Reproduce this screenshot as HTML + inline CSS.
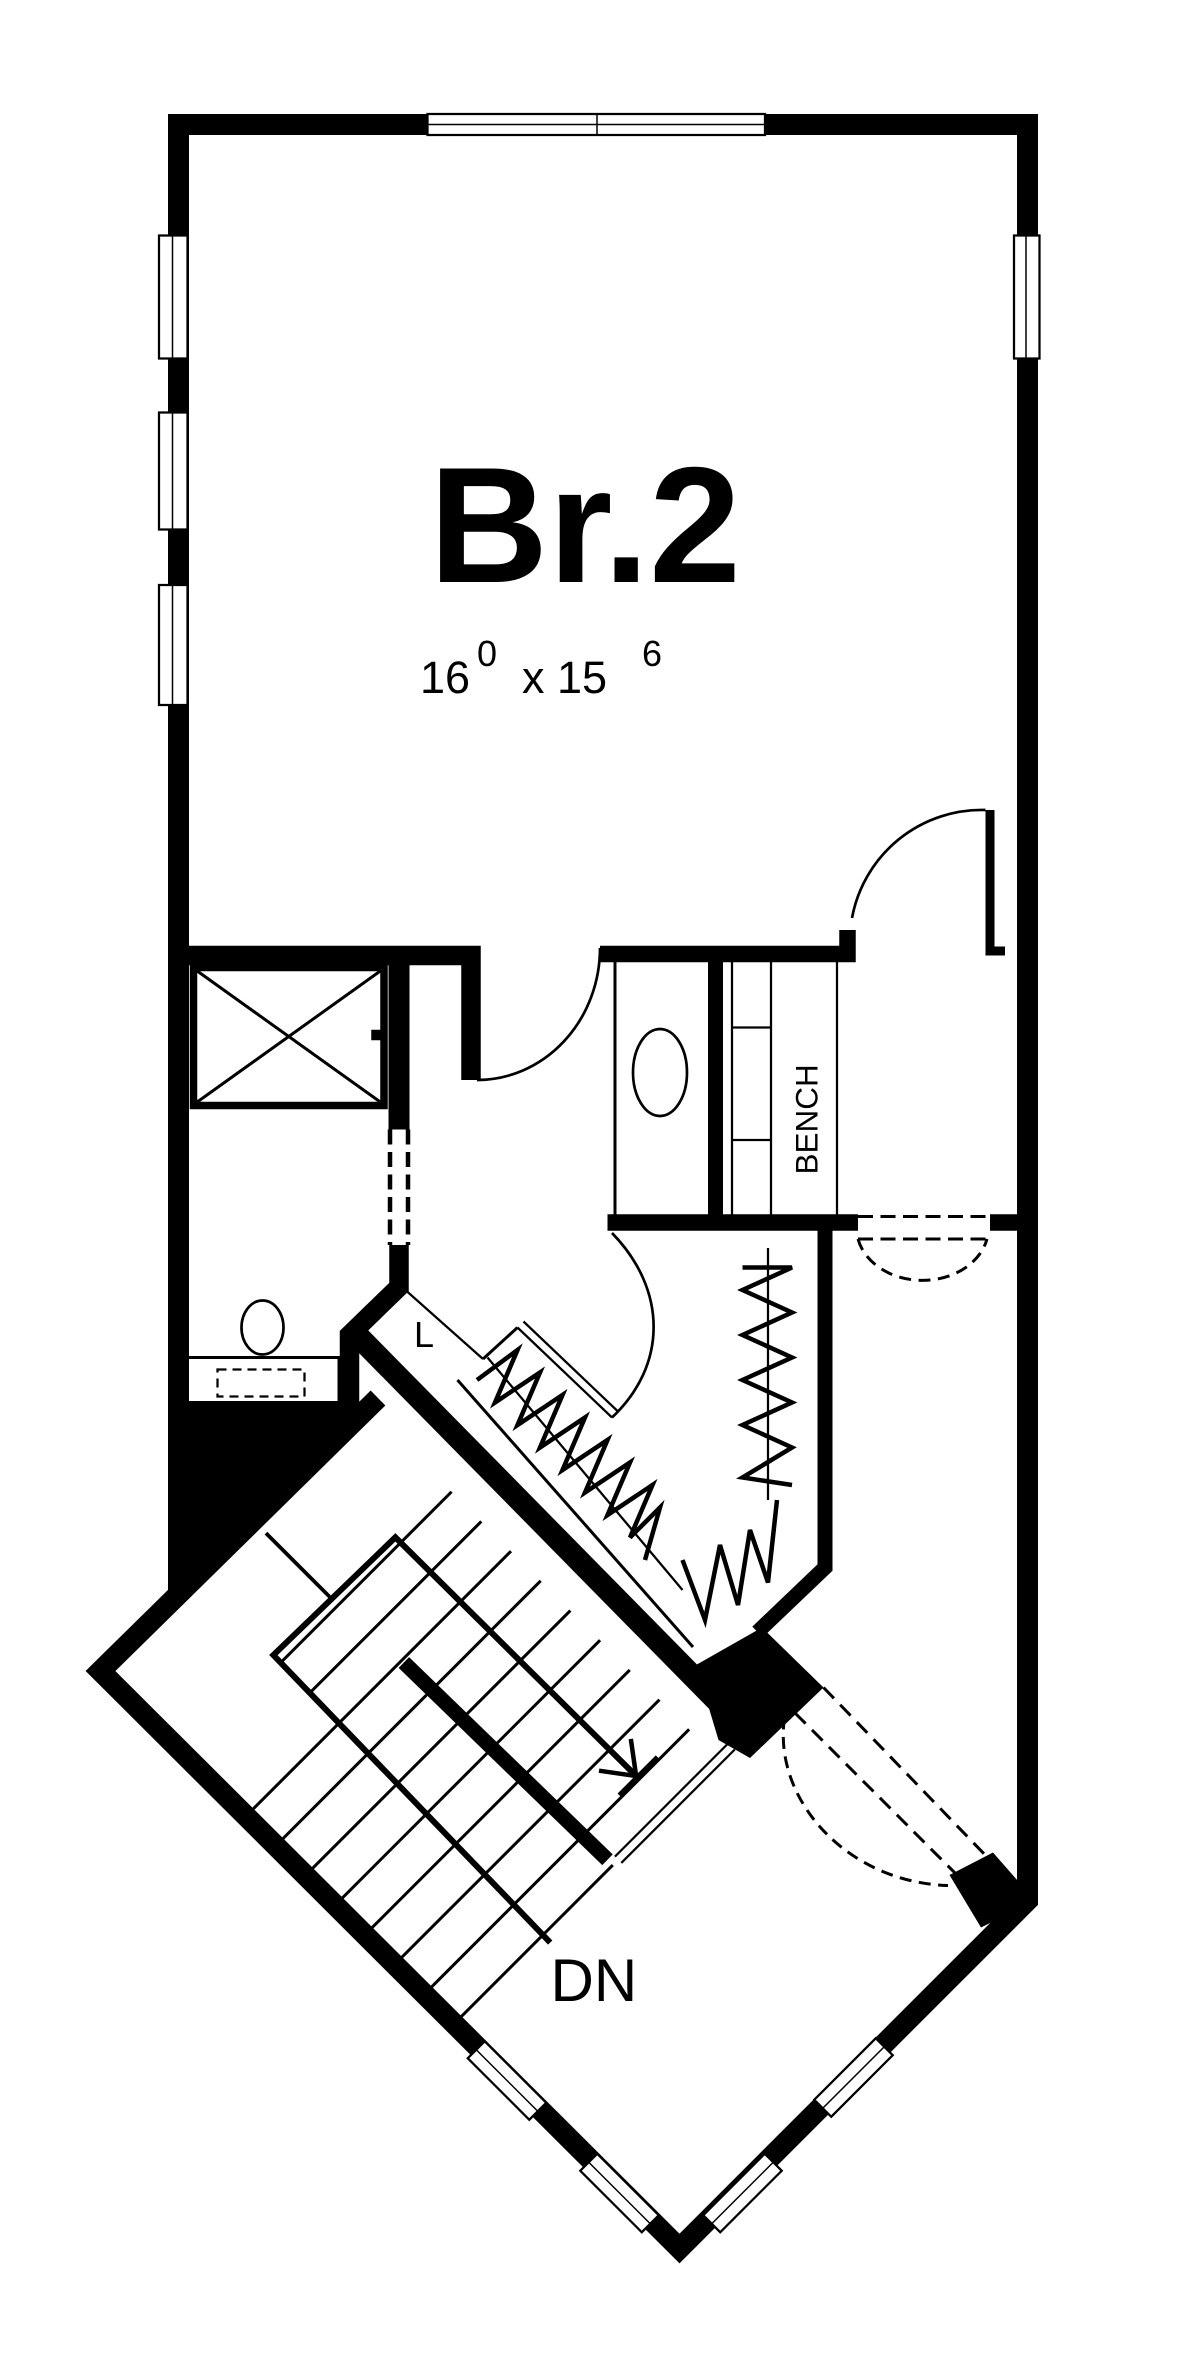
<!DOCTYPE html>
<html><head><meta charset="utf-8"><style>
html,body{margin:0;padding:0;background:#fff;}
svg{display:block;}
text{font-family:"Liberation Sans",Arial,sans-serif;fill:#000;}
</style></head><body>
<svg width="1200" height="2367" viewBox="0 0 800 1578" xmlns="http://www.w3.org/2000/svg">
<rect width="800" height="1578" fill="#fff"/>
<g fill="none" stroke="#000" stroke-linejoin="miter">
<path d="M119,1066 L119,83 L685,83 L685,1267 L453,1499 L67,1114 L252,932" stroke-width="14"/>
<polygon points="112,935 240,935 240,944 112,1072" fill="#000" stroke="none"/>
<rect x="285" y="76" width="225" height="14" fill="#fff" stroke-width="1.5"/>
<line x1="285" y1="83" x2="510" y2="83" stroke-width="1"/>
<line x1="398" y1="76" x2="398" y2="90" stroke-width="1"/>
<g fill="#fff" stroke-width="1.5">
<rect x="106" y="157" width="19" height="82"/>
<rect x="106" y="275" width="19" height="78"/>
<rect x="106" y="390" width="19" height="80"/>
<rect x="676" y="157" width="17" height="82"/>
</g>
<g stroke-width="1"><line x1="115" y1="157" x2="115" y2="239"/><line x1="115" y1="275" x2="115" y2="353"/><line x1="115" y1="390" x2="115" y2="470"/><line x1="684" y1="157" x2="684" y2="239"/></g>
<path d="M119,637 L314,637 L314,720" stroke-width="13"/>
<path d="M318,720 A82,88 0 0 0 400,632" stroke-width="1.8"/>
<path d="M400,636 L565,636 L565,620" stroke-width="11"/>
<path d="M568,612 A88,88 0 0 1 657,540" stroke-width="1.8"/>
<path d="M660,540 L660,634 L670,634" stroke-width="6"/>
<rect x="129" y="645" width="127" height="92" stroke-width="5"/>
<path d="M131,647 L254,735 M254,647 L131,735" stroke-width="2"/>
<rect x="248" y="687" width="6" height="6" fill="#000"/>
<path d="M266,638 L266,753" stroke-width="14"/>
<path d="M260,753 L260,830 M272,753 L272,830" stroke-width="3" stroke-dasharray="10,5"/>
<path d="M266,830 L266,858 L233,890 L233,935" stroke-width="13"/>
<rect x="123" y="905" width="103" height="30" stroke-width="2"/>
<ellipse cx="175" cy="885" rx="14" ry="18" stroke-width="1.8"/>
<rect x="145" y="913" width="58" height="18" stroke-width="1.5" stroke-dasharray="6,4"/>
<path d="M268,858 L322,906" stroke-width="1.5"/>
<text x="276" y="898" font-size="24" stroke="none">L</text>
<path d="M238,890 L484,1140" stroke-width="15"/>
<polygon points="464,1110 508,1085 549,1125 500,1172 479,1160" fill="#000" stroke="none"/>
<path d="M410,640 L410,815" stroke-width="2"/>
<path d="M477,640 L477,815" stroke-width="10"/>
<path d="M488,640 L488,815 M514,640 L514,815 M558,640 L558,815" stroke-width="1.5"/>
<path d="M488,685 L514,685 M488,760 L514,760" stroke-width="1.5"/>
<text x="0" y="0" font-size="21" stroke="none" transform="translate(545,783) rotate(-90)">BENCH</text>
<ellipse cx="440" cy="715" rx="18" ry="29" stroke-width="1.8"/>
<path d="M405,815 L572,815" stroke-width="11"/>
<path d="M550,815 L550,1045 L505,1088" stroke-width="10"/>
<path d="M660,815 L682,815" stroke-width="11"/>
<path d="M572,811 L660,811 M572,826 L660,826" stroke-width="2" stroke-dasharray="10,5"/>
<path d="M572,826 A44,35 0 0 0 658,826" stroke-width="2" stroke-dasharray="8,5"/>
<path d="M408,822 C445,860 445,910 408,945" stroke-width="1.8"/>
<path d="M345,885 L408,945 M349,881 L412,941" stroke-width="1.5"/>
<path d="M322,906 L345,885" stroke-width="2"/>
<path d="M305,920 L462,1098" stroke-width="2"/>
<path d="M325,905 L455,1060" stroke-width="1.5"/>
<path d="M318,920 L345,900 L330,935 L360,915 L345,950 L375,930 L360,965 L390,945 L375,980 L405,960 L390,995 L420,975 L405,1010 L435,990 L420,1025 L440,1005 L430,1040" stroke-width="3"/>
<path d="M512,832 L512,1000" stroke-width="1.5"/>
<path d="M495,845 L528,845 L495,860 L528,875 L495,890 L528,905 L495,920 L528,935 L495,950 L528,965 L495,985 L528,990" stroke-width="3"/>
<path d="M455,1040 L470,1080 L480,1030 L492,1070 L500,1020 L512,1055 L518,1000" stroke-width="3"/>
<g transform="translate(67,1114) rotate(-45)">
<g stroke-width="2">
<line x1="89" y1="81" x2="250" y2="81"/>
<line x1="89" y1="109" x2="250" y2="109"/>
<line x1="6" y1="137" x2="250" y2="137"/>
<line x1="6" y1="165" x2="250" y2="165"/>
<line x1="6" y1="193" x2="250" y2="193"/>
<line x1="6" y1="221" x2="250" y2="221"/>
<line x1="6" y1="249" x2="250" y2="249"/>
<line x1="6" y1="277" x2="250" y2="277"/>
<line x1="6" y1="305" x2="250" y2="305"/>
<line x1="6" y1="333" x2="150" y2="333"/>
<line x1="143" y1="13" x2="143" y2="74" stroke-width="2.5"/>
</g>
<path d="M84,340 L89,74 L202,76 L203,300" stroke-width="4"/>
<line x1="147" y1="139" x2="150" y2="328" stroke-width="10"/>
<path d="M188,282 L203,302 L218,282 M186,303 L222,303" stroke-width="3"/>
<path d="M155,330 L262,330 M155,336 L262,336" stroke-width="1.5"/>
</g>
<path d="M549,1125 L660,1240 M530,1142 L640,1252" stroke-width="2" stroke-dasharray="10,6"/>
<path d="M523,1145 C515,1200 565,1255 632,1257" stroke-width="2" stroke-dasharray="8,5"/>
<polygon points="633,1250 662,1235 690,1267 654,1285" fill="#000" stroke="none"/>
<g fill="#fff" stroke-width="1.5">
<rect x="-29" y="-8" width="58" height="16" transform="translate(338,1387) rotate(45)"/>
<rect x="-29" y="-8" width="58" height="16" transform="translate(413,1462) rotate(45)"/>
<rect x="-29" y="-8" width="58" height="16" transform="translate(569,1385) rotate(-45)"/>
<rect x="-29" y="-8" width="58" height="16" transform="translate(495,1462) rotate(-45)"/>
</g>
<g stroke-width="1">
<line x1="-29" y1="0" x2="29" y2="0" transform="translate(338,1387) rotate(45)"/>
<line x1="-29" y1="0" x2="29" y2="0" transform="translate(413,1462) rotate(45)"/>
<line x1="-29" y1="0" x2="29" y2="0" transform="translate(569,1385) rotate(-45)"/>
<line x1="-29" y1="0" x2="29" y2="0" transform="translate(495,1462) rotate(-45)"/>
</g>
</g>
<text x="390" y="388" font-size="110" font-weight="bold" text-anchor="middle">Br.2</text>
<text x="280" y="462" font-size="30">16</text>
<text x="318" y="444" font-size="24">0</text>
<text x="348" y="462" font-size="30">x 15</text>
<text x="428" y="444" font-size="24">6</text>
<text x="367" y="1334" font-size="40">DN</text>
</svg>
</body></html>
